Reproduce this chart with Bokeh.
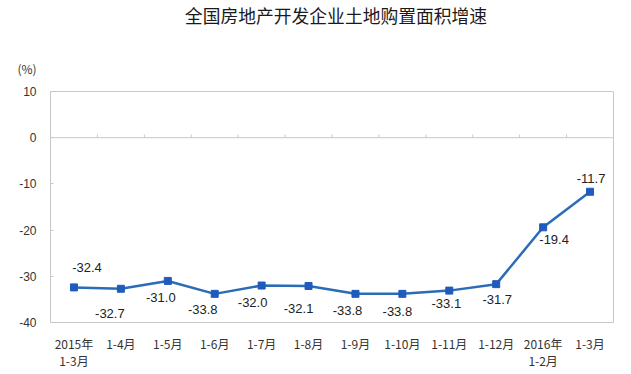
from bokeh.plotting import figure
from bokeh.models import Range1d, FixedTicker, Span, ColumnDataSource, Div
from bokeh.layouts import column
from bokeh.core.properties import value
from bokeh.embed import file_html
from bokeh.resources import INLINE

title_text = "全国房地产开发企业土地购置面积增速"
unit_text = "(%)"
categories = ["2015年\n1-3月", "1-4月", "1-5月", "1-6月", "1-7月", "1-8月",
              "1-9月", "1-10月", "1-11月", "1-12月", "2016年\n1-2月", "1-3月"]
growth = [-32.4, -32.7, -31.0, -33.8, -32.0, -32.1, -33.8, -33.8, -33.1, -31.7, -19.4, -11.7]
y_ticks = [10, 0, -10, -20, -30, -40]

# label placement (screen pixel offsets from each point) - styling only
label_dx = [13, -11, -7, -12, -9, -10, -8, -5, -3, 1, 11, 1]
label_dy = [-20, 25, 17, 16, 17, 22, 17, 18, 13, 15, 12, -13]

n = len(categories)
xs = [i + 0.5 for i in range(n)]

W = 631
HEAD = 80

head = Div(
    text=(f'<div style="position:relative;width:{W}px;height:{HEAD}px;">'
          f'<div style="position:absolute;left:0;top:4px;width:672px;text-align:center;'
          f'font-family:\'Noto Sans CJK SC\';font-size:17.8px;line-height:22px;color:#1a1a1a;">{title_text}</div>'
          f'<div style="position:absolute;left:0;top:61px;width:54px;text-align:center;'
          f'font-family:\'Noto Sans CJK SC\';font-size:12px;line-height:16px;color:#333;">{unit_text}</div>'
          f'</div>'),
    width=W, height=HEAD, margin=0)

p = figure(width=W, height=374 - HEAD, output_backend="svg", toolbar_location=None,
           x_range=Range1d(0, n), y_range=Range1d(min(y_ticks), max(y_ticks)),
           min_border_left=50, min_border_right=18, min_border_top=91 - HEAD,
           min_border_bottom=52, margin=0)
p.background_fill_color = "white"
p.border_fill_color = "white"
p.outline_line_color = "#c8c8c8"
p.outline_line_width = 1
p.xgrid.visible = False
p.ygrid.visible = False

# y axis
p.yaxis.ticker = FixedTicker(ticks=y_ticks)
p.yaxis.major_label_overrides = {t: str(t) for t in y_ticks}
p.yaxis.axis_line_color = "#c8c8c8"
p.yaxis.major_tick_line_color = "#c8c8c8"
p.yaxis.major_tick_in = 3
p.yaxis.major_tick_out = 0
p.yaxis.minor_tick_line_color = None
p.yaxis.major_label_standoff = 14
p.yaxis.major_label_text_font = "Liberation Sans"
p.yaxis.major_label_text_font_size = "12px"
p.yaxis.major_label_text_color = "#333333"

# x axis
p.xaxis.ticker = FixedTicker(ticks=xs)
p.xaxis.major_label_overrides = {x: c for x, c in zip(xs, categories)}
p.xaxis.axis_line_color = None
p.xaxis.major_tick_line_color = None
p.xaxis.minor_tick_line_color = None
p.xaxis.major_label_standoff = 6
p.xaxis.major_label_text_font = "Noto Sans CJK SC"
p.xaxis.major_label_text_font_size = "12px"
p.xaxis.major_label_text_color = "#333333"
p.xaxis.major_label_text_line_height = 1.0

# zero line with category boundary ticks
p.add_layout(Span(location=0, dimension="width", line_color="#c8c8c8", line_width=1))
bx = list(range(1, n))
p.segment(x0=bx, y0=[0] * len(bx), x1=bx, y1=[0.7] * len(bx), line_color="#c8c8c8", line_width=1)

src = ColumnDataSource(dict(x=xs, y=growth, t=[f"{v:.1f}" for v in growth],
                            dx=label_dx, dy=label_dy))
p.line("x", "y", source=src, line_color="#2b6cb8", line_width=2.5)
p.scatter("x", "y", source=src, marker="square", size=7, fill_color="#1f5bbd", line_color="#1f5bbd")
p.text("x", "y", text="t", source=src, x_offset="dx", y_offset="dy",
       text_align="center", text_baseline="middle", text_font=value("Liberation Sans"),
       text_font_size="13px", text_color="#222222")

layout = column(head, p, spacing=0, margin=0)
open("out.html", "w").write(file_html(layout, INLINE))
